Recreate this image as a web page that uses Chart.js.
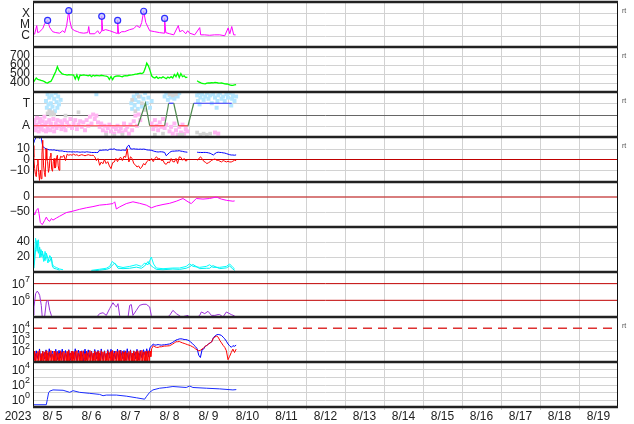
<!DOCTYPE html>
<html><head><meta charset="utf-8">
<script src="https://cdn.jsdelivr.net/npm/chart.js@4.4.1/dist/chart.umd.min.js"></script>
<style>
html,body{margin:0;padding:0;background:#fff;}
body{width:634px;height:424px;overflow:hidden;position:relative;}
canvas{position:absolute;left:0;}
</style></head><body>
<script>
// ---------------- axis labels ----------------
const dayLabels = ['8/ 5','8/ 6','8/ 7','8/ 8','8/ 9','8/10','8/11','8/12','8/13','8/14','8/15','8/16','8/17','8/18','8/19'];
const yearLabel = '2023';
const xrayTicks = [1e-6, 1e-5, 1e-4];           const xrayTickLabels = ['C','M','X'];
const speedTicks = [400, 500, 600, 700];         const speedTickLabels = ['400','500','600','700'];
const sectorTicks = [1, 2, 3];                   const sectorTickLabels = ['A','','T'];
const imfTicks = [-10, 0, 10];                   const imfTickLabels = ['\u221210','0','10'];
const dstTicks = [-50, 0];                       const dstTickLabels = ['\u221250','0'];
const aeTicks = [20, 40];                        const aeTickLabels = ['20','40'];
const protonTicks = [1e6, 1e7];                  const protonTickLabels = ['10\u2076','10\u2077'];
const elecTicks = [1e2, 1e3, 1e4];               const elecTickLabels = ['10\u00b2','10\u00b3','10\u2074'];
const fluxTicks = [1, 10, 100, 1000, 10000];     const fluxTickLabels = ['10\u2070','','10\u00b2','','10\u2074'];

// ---------------- series (hours from 8/5 00:00) ----------------
const xray = [[0,1.5e-6],[1.0,1.4e-6],[2.3,8e-6],[2.9,1.9e-6],[4.1,2.3e-6],[6.0,4.3e-6],[7.2,1.2e-5],[9.0,2.3e-5],[10.3,5.3e-6],[12.1,2.3e-6],[14.0,1.9e-6],[16.4,1.7e-6],[18.3,2.8e-6],[19.5,1.9e-6],[20.7,8e-6],[22.0,1.7e-4],[22.6,2.3e-5],[23.8,4.3e-6],[25.7,2.8e-6],[27.5,2.3e-6],[28.7,1.9e-6],[31.2,1.7e-6],[33.7,1.9e-6],[34.3,6.6e-6],[34.9,1.5e-6],[38.0,1.5e-6],[39.8,2.8e-6],[41.0,1.5e-6],[42.0,2.5e-6],[42.3,5.3e-5],[42.9,2.8e-6],[44.7,3.5e-6],[47.2,2.8e-6],[50.3,1.9e-6],[51.8,1.6e-6],[52.1,2.3e-5],[52.7,1.5e-6],[54.6,2.3e-6],[56.4,2.3e-6],[59.5,3.5e-6],[62.0,4.3e-6],[63.8,8e-6],[65.7,5.3e-6],[66.9,1.5e-5],[68.1,1.5e-4],[69.4,1.5e-5],[71.8,2.8e-6],[74.9,2.3e-6],[77.9,1.9e-6],[80.7,1.7e-6],[81.0,3.5e-5],[81.7,1.9e-6],[84.1,1.5e-6],[86.6,1.2e-6],[89.4,8e-6],[90.3,2.3e-6],[92.1,3e-6],[94.0,1.5e-6],[95.2,2.8e-6],[96.4,1.7e-6],[99.5,1.2e-6],[102.6,5.3e-6],[103.2,1.2e-6],[105.6,1.2e-6],[108.7,1.1e-6],[111.8,1.2e-6],[114.9,1.2e-6],[118.0,1.0e-6],[120.1,5e-6],[121.1,1.5e-6],[122.3,6.6e-6],[123.5,1.2e-6],[124.7,1.2e-6]];
const flarePeaks = [[9.0,2.3e-5],[22.0,1.7e-4],[42.3,5.3e-5],[52.1,2.3e-5],[68.1,1.5e-4],[81.0,3.5e-5]];

// solar wind speed, hourly from 0h
const speedHourly = [
 400,430,455,440,436,430,425,415,405,400,
 412,418,450,490,527,582,540,520,500,495,
 492,488,492,490,490,488,445,490,438,488,
 485,490,487,485,480,488,470,486,478,484,
 482,480,486,482,478,476,470,440,472,438,
 470,475,478,480,474,470,478,482,480,486,
 488,490,494,498,500,505,510,505,515,560,
 620,590,540,480,462,455,470,450,462,455,
 470,458,448,465,455,470,455,495,470,510,
 462,505,470,480,460,466,null,null,null,null,
 null,425,412,405,395,392,390,398,402,400,
 405,402,407,404,400,398,400,396,390,389,
 388,380,375,373,378,381];

// IMF sector: step line (1 = Away, 3 = Toward) and angle dots
const sectorLine = [[0,1],[64.6,1],[69.2,3],[71.8,1],[81,1],[83.5,3],[86.6,3],[89.7,1],[95.4,1],[98.9,3],[122.3,3]];
const sectorPink = [[0.5,1.2],[0.5,0.8],[1,1.5],[1.5,0.6],[2,1.1],[2.5,1.7],[3,0.9],[3.5,0.5],[4,1.3],[4.5,1.6],[5,0.7],[5.5,1.0],[6,1.4],[6.5,0.6],[7,1.8],[7.5,1.1],[8,0.5],[8.5,1.3],[9,0.8],[10,1.5],[10.5,0.6],[11,1.2],[12,0.9],[12.5,1.6],[13,0.5],[14,1.2],[14.5,0.8],[15,1.5],[16,1.0],[17,1.4],[17.5,0.7],[18,1.2],[19,0.9],[19.5,1.5],[20,0.6],[21,1.3],[22,1.0],[23,1.6],[24,0.8],[25,1.2],[26,1.5],[27,0.7],[28,1.1],[29,1.4],[30,0.9],[31,1.3],[32,0.6],[33,1.5],[34,1.0],[35,1.8],[36,1.2],[37,2.0],[38,1.6],[39,1.9],[40,1.3],[41,0.9],[42,1.2],[43,0.6],[44,1.0],[45,0.4],[46,0.8],[47,1.1],[48,0.5],[49,0.9],[50,0.3],[51,0.7],[52,1.0],[53,0.5],[54,0.8],[55,0.4],[56,1.2],[57,0.6],[58,0.9],[59,0.3],[60,1.1],[61,0.6],[62,1.4],[63,1.9],[64,1.0],[65,2.0],[66,1.5],[73,1.2],[74,0.7],[75,1.5],[76,1.0],[77,0.6],[78,1.3],[79,0.9],[80,1.6],[81,0.8],[82,1.1],[84,0.5],[85,0.9],[86,0.3],[87,1.2],[88,0.6],[89,0.2],[90,0.9],[91,0.4],[92,1.1],[93,0.3],[94,0.7],[95,0.5],[112,0.4],[114,0.3]];
const sectorBlue = [[8,3.2],[8.5,2.6],[9,3.8],[9.5,2.9],[10,3.5],[10.5,2.4],[11,3.0],[11.5,3.7],[12,2.7],[13,3.4],[13.5,2.3],[14,3.9],[14.5,3.1],[15,2.6],[15.5,3.6],[16,2.9],[17,3.3],[39,3.8],[60.5,3.0],[61,2.5],[62,3.6],[62.5,2.8],[63,3.3],[64,3.8],[64.5,2.5],[65,3.1],[66,3.6],[67,2.7],[68,3.4],[69,3.9],[70,3.0],[71,3.5],[72,2.6],[73,3.2],[81,3.6],[82,3.9],[83,3.3],[84,3.7],[85,3.5],[86,3.9],[87,3.4],[88,3.7],[89,3.6],[90,3.9],[101,3.7],[101.5,3.2],[102,3.9],[102.5,2.9],[103,3.5],[104,3.8],[105,3.3],[106,3.6],[107,3.9],[108,3.4],[109,3.7],[110,3.0],[111,3.8],[112,3.5],[113,2.6],[113.5,3.2],[114,3.7],[115,3.9],[116,3.4],[117,3.6],[118,3.2],[119,3.8],[120,3.5],[121,3.9],[122,2.8],[122.5,3.4],[123,3.7],[124,3.2],[125,3.6]];
const sectorGray = [[9,2.1],[10,2.3],[11,2.0],[12,2.2],[13,2.0],[20,1.9],[28,2.2],[45,0.2],[50,0.1],[55,0.2],[61,3.3],[63,2.3],[65,3.6],[67,3.0],[69,2.4],[75,0.2],[80,0.3],[84,3.8],[86,3.7],[88,3.8],[90,0.2],[92,0.2],[101,0.4],[103,0.2],[105,0.3],[107,0.2],[109,0.3]];

// IMF Bt (hourly from 0h) and Bz (half-hourly 0-16.5h, then hourly from 17h), nT
const btHourly = [
 13.5,18,21,21,20,21,12,11,10,9.5,
 9,9,8.8,9,8.5,8.5,8,8,8,7.5,
 7.5,7.2,7.2,7.2,7,7.2,7,7.2,7,6.8,
 7,7,6.8,7.2,7,6.8,6.6,6.5,6.6,6.5,
 6.6,8.8,8.5,8.8,8.8,9,8.5,9.5,9.7,9.5,
 10,9,8.8,8.8,8.5,8.8,8.8,8.5,12,13.5,
 10,9.7,10,9.7,9.7,9.5,9.7,9.5,9.7,9.5,
 9,8.8,8.8,8.5,8,7.5,7.2,7,7.2,7.2,
 7,6.6,3.5,5,6.5,7.5,7.8,7.8,8,8,
 8.2,7.8,7.6,7.2,7,6.8,null,null,null,null,
 null,6.8,6.6,6.6,6.5,6.6,6.6,6.5,6.2,5.8,
 5,4.2,5.5,6.5,6.8,6.6,6.5,6.2,6,5.5,
 5,4.5,4.2,4.2,4,4.3];
const bzEarlyHalfHourly = [
 13,2,-8.5,-14,-16,-5,0,-12,-19.5,-10,
 -18,5,18,-6,-12,-16,10,0,-2,-12,
 -8.5,3,6,-9,-11,-2,1,-8,-7,2,
 4,-6,-10,0];
const bzHourlyFrom17 = [
 3,2,4,
 -1,5,4,4.5,4,5,4,4.5,3.5,4,
 4.5,4,3.5,4,4.5,4,3.8,4,2.5,-1,
 0.9,-5.4,-2.3,-4,0,-3.8,-2,-6,-8.5,-3,
 -2.3,1,-2,0.9,2,-1,3,2,10,-2.3,
 2.5,1,-3.8,-5,-7,-6,-8.5,-7,-3.8,-5,
 -2,-0.7,-1,0.9,-2,1,2.5,0.5,0.9,-1,
 -0.7,-3.8,-4.5,-2.3,-3,0.9,-2,-2.3,1,-3.8,
 2.5,2,-0.7,1,-1.5,-0.7,null,null,null,null,
 null,-0.7,0.5,2.5,1,-1.6,-2.5,-3.8,-3,-2,
 -0.7,0,0.5,-0.7,-0.7,-1.6,-2.3,-1,-1.6,-2.3,
 -1.6,-2.3,-2.3,-1.6,-0.7,-1];

// Dst index (nT)
const dst = [[0,-45],[1.0,-60],[2.1,-44],[3.1,-38],[3.7,-55],[4.5,-85],[5.7,-92],[7.2,-78],[8.2,-67],[9.2,-77],[10.3,-81],[11.3,-72],[12.3,-77],[14.4,-70],[16.4,-64],[20.5,-52],[24.6,-47],[28.7,-41],[32.8,-36],[36.9,-32],[41.0,-27],[45.1,-25],[49.2,-22],[50.3,-16],[51.3,-40],[53.3,-33],[57.4,-22],[61.5,-16],[65.6,-21],[69.7,-27],[72.8,-36],[75.9,-30],[80.0,-25],[84.1,-21],[88.2,-14],[92.3,-5],[95.4,-16],[97.4,-22],[100.5,-5],[104.6,-7],[108.7,-5],[112.8,0],[115.9,-7],[119.0,-11],[123.0,-14],[124.1,-13]];

// cyan activity traces
const cyanA = [[0.6,9.7],[1.6,45],[2.5,27.5],[3.3,43],[4.1,18.7],[4.9,30],[5.7,25],[6.6,14],[7.4,27.5],[8.2,20.8],[9.2,12],[10.3,22],[11.3,18.7],[11.9,11],[12.7,7.5],[14.4,6],[16.4,4],[18.5,3],[27,null],[35.9,2.2],[41,3.7],[45.1,5],[47.2,7.5],[48.8,14],[50.3,11],[52.3,7.5],[55.4,6],[59.5,7.5],[63.6,9.7],[66.7,7.5],[68.7,12],[70.8,9.7],[72.8,20],[74.2,10.7],[75.9,5.3],[80,4.4],[86.1,5.3],[90.2,5.3],[94.3,7.5],[96.4,11],[98.4,7.5],[102.6,6.2],[106.7,7.5],[108.7,9.7],[110.7,6.2],[114.9,6.2],[119,7.5],[121,10.7],[123,6.2],[124.1,4]];
const cyanB = [[0.6,5],[1.6,30],[2.5,42],[3.3,25],[4.1,33],[4.9,20],[5.7,28],[6.6,20],[7.4,15],[8.2,25],[9.2,18],[10.3,14],[11.3,20],[11.9,8],[12.7,5],[14.4,4],[16.4,2.5],[27,null],[35.9,1],[41,2.5],[45.1,3.5],[47.2,5],[48.8,9],[50.3,12],[52.3,5],[55.4,4.5],[59.5,5],[63.6,6.5],[66.7,5],[68.7,8],[70.8,14],[72.8,8],[74.2,6],[75.9,3.5],[80,3],[86.1,4],[90.2,3.5],[94.3,5],[96.4,7],[98.4,10],[102.6,4.5],[106.7,5],[108.7,5],[110.7,8.5],[114.9,4.5],[119,5.5],[121,8],[123,4],[124.1,2]];

// proton-type flux (purple)
const purple = [[0,1.3e5],[0.6,4.0e5],[1.6,2.5e6],[2.5,3.5e6],[3.1,3.2e6],[4.1,2.0e6],[5.1,5.0e5],[5.7,1.0e5],[6.6,8e4],[7.2,1.15e5],[8.2,8e5],[9.2,1.0e6],[10.3,2.5e5],[11.3,1.25e5],[11.9,8e4],[20,6e4],[30,6e4],[38,7e4],[41,1.6e5],[43.1,1.8e5],[45.1,1.25e5],[47.2,3.2e5],[49.2,7.2e5],[50.3,5.0e5],[51.3,4.0e5],[52.3,6.3e5],[53.3,1.25e5],[55.4,6.3e4],[58.5,1.0e5],[59.5,5.0e5],[60.5,5.6e5],[61.5,1.25e5],[63.6,2.5e5],[65.6,5.0e5],[67.7,5.8e5],[69.7,5.8e5],[71.8,4.0e5],[72.8,1.25e5],[73.8,6.3e4],[80,6.3e4],[84.1,1.25e5],[86.1,2.5e5],[88.2,1.6e5],[91.3,1.0e5],[95.4,1.25e5],[98.4,6.3e4],[102.6,1.25e5],[103.6,2.0e5],[105.7,1.6e5],[107.7,2.2e5],[109.8,1.25e5],[111.9,1.25e5],[113.9,1.4e5],[114.9,1.4e5],[116.9,1.0e5],[119,2.0e5],[122,1.4e5],[124.1,1.15e5]];

// electron flux: noisy early part, then hourly from 74h
const elecBlueHourlyEarly = [
 130,15,100,20,145,12,90,18,120,14,150,25,95,13,135,16,110,22,140,12,
 105,17,125,14,95,20,150,13,115,18,100,12,140,16,120,25,90,14,130,19,
 110,12,145,17,100,15,125,22,135,13,95,18,140,12,115,20,105,14,150,16,
 120,13,100,19,135,15,110,24,125,40,150,30,200,260];
const elecBlueHourlyLate = [
 400,315,330,355,330,315,330,340,355,380,
 400,470,560,700,890,1000,1120,1150,1100,1000,
 1000,900,800,600,450,315,230,150,40,25,
 120,140,250,300,400,500,630,1500,2000,2600,
 2800,2600,2300,1600,1150,700,400,280,200,280,
 250,315];
const elecRedHalfHourlyEarly = [
 70,10,95,11,60,9,85,12,110,10,55,13,90,9,75,11,100,10,65,12,
 80,9,105,11,50,10,95,12,70,9,88,11,60,10,100,13,75,9,92,11,
 58,10,85,12,110,9,66,11,95,10,72,13,88,9,104,11,62,10,90,12,
 78,9,100,11,55,10,93,12,68,9,107,11,82,10,60,13,96,9,74,11,
 88,10,63,12,101,9,77,11,92,10,57,13,99,9,70,11,86,10,108,12,
 65,9,94,11,79,10,103,12,58,9,91,11,73,10,98,13,66,9,87,11,
 105,10,62,12,95,9,80,11,100,10,68,13,92,9,110,11,75,10,85,12,
 90,12,100,11,95,30,150];
const elecRedHourlyLate = [
 280,225,200,200,225,225,250,260,263,270,
 280,330,400,500,630,630,660,575,500,450,
 400,350,315,280,230,200,140,120,100,110,
 140,180,250,300,400,500,630,1320,1700,2000,
 1600,800,500,300,200,100,16,32,70,140,
 70,140];

// bottom panel flux (blue)
const fluence = [[0,0.2],[8.2,0.2],[8.8,1],[9.6,8],[10.3,13],[12.3,19],[18.5,17],[22.6,9],[24.6,15],[28.7,9],[34.9,6.6],[41.0,4.8],[43.1,3.2],[45.1,3.9],[51.3,3.9],[57.4,2.8],[63.6,1.7],[68.7,1.1],[69.7,2.3],[71.8,9],[73.8,19],[77.9,32],[82.0,40],[86.1,54],[94.3,40],[96.4,63],[98.4,40],[106.7,32],[114.9,26],[123.0,19],[125.1,21]];

// reference levels
const imfZero = 0, dstZero = 0, protonLevels = [1e6, 1e7], elecLevel = 1e4;

// ---------------- drawing ----------------
const FONT = "'Liberation Sans', Arial, 'DejaVu Sans', sans-serif";
const W = 634, PLOT_LEFT = 33, PLOT_RIGHT = 618, PANEL_H = 45, TOP0 = 2, AXIS_H = 17;
const GRID = '#d2d2d2';
const SUP = '\u2070\u00b9\u00b2\u00b3\u2074\u2075\u2076\u2077\u2078\u2079';

const pairs = a => a.map(p => ({x: p[0], y: p[1]}));
const series = (a, start, step) => a.map((v, i) => ({x: start + i * step, y: v}));
function line(data, color, extra) {
  return Object.assign({type: 'line', data, borderColor: color, backgroundColor: color, borderWidth: 1,
    pointRadius: 0, tension: 0, fill: false, clip: 0, spanGaps: false, order: 1}, extra || {});
}
function refLine(level, color, extra) {
  return line([{x: 0, y: level}, {x: 360, y: level}], color, Object.assign({order: 20}, extra || {}));
}
function dots(data, color, r) {
  return {type: 'line', data, showLine: false, pointStyle: 'rect', pointRadius: r, pointBorderWidth: 0,
    pointBackgroundColor: color, pointBorderColor: color, clip: 0, order: 10};
}

function drawTickLabel(ctx, t, x, y) {
  let i = t.length;
  while (i > 0 && SUP.indexOf(t[i - 1]) >= 0) i--;
  if (i === t.length) { ctx.font = '12px ' + FONT; ctx.fillText(t, x, y); return; }
  const exp = t.slice(i).split('').map(ch => String(SUP.indexOf(ch))).join('');
  ctx.font = '9px ' + FONT;
  const we = ctx.measureText(exp).width;
  ctx.fillText(exp, x, y - 4);
  ctx.font = '12px ' + FONT;
  ctx.fillText(t.slice(0, i), x - we, y + 1);
}

function makeAxesPlugin(spec) {
  const y = spec.y, bottom = !!spec.bottom;
  return {
    id: 'axesFrame',
    beforeDatasetsDraw(chart) {
      const {ctx, chartArea: a, scales} = chart;
      const xs = scales.x, ys = scales.y;
      ctx.save();
      ctx.lineWidth = 1;
      ctx.strokeStyle = GRID;
      ctx.beginPath();
      for (let d = 1; d < dayLabels.length; d++) {
        const px = Math.round(xs.getPixelForValue(d * 24)) + 0.5;
        ctx.moveTo(px, a.top); ctx.lineTo(px, a.bottom + (bottom ? 3 : 0));
      }
      ctx.stroke();
      y.ticks.forEach(v => {
        const c = y.gridColor ? y.gridColor(v) : GRID;
        if (!c) return;
        const py = Math.round(ys.getPixelForValue(v)) + 0.5;
        ctx.strokeStyle = c;
        ctx.beginPath(); ctx.moveTo(a.left, py); ctx.lineTo(a.right, py); ctx.stroke();
      });
      ctx.restore();
    },
    afterDraw(chart) {
      const {ctx, chartArea: a, scales} = chart;
      const xs = scales.x, ys = scales.y;
      ctx.save();
      ctx.strokeStyle = '#111';
      ctx.lineWidth = 1;
      ctx.beginPath();
      ctx.moveTo(a.left + 0.5, a.top); ctx.lineTo(a.left + 0.5, a.bottom);
      ctx.moveTo(a.right - 0.5, a.top); ctx.lineTo(a.right - 0.5, a.bottom);
      ctx.stroke();
      ctx.strokeStyle = '#222';
      ctx.lineWidth = 2.6;
      ctx.beginPath();
      ctx.moveTo(a.left, a.top); ctx.lineTo(a.right, a.top);
      ctx.moveTo(a.left, a.bottom); ctx.lineTo(a.right, a.bottom);
      ctx.stroke();
      ctx.fillStyle = '#222';
      ctx.textAlign = 'right';
      ctx.textBaseline = 'middle';
      y.ticks.forEach((v, i) => {
        const t = y.labels[i];
        if (t) drawTickLabel(ctx, t, a.left - 3, ys.getPixelForValue(v));
      });
      if (spec.rt) {
        ctx.fillStyle = '#555';
        ctx.font = '7px ' + FONT;
        ctx.textAlign = 'left';
        ctx.fillText('rt', a.right + 4, a.top + 9);
      }
      if (bottom) {
        ctx.fillStyle = '#222';
        ctx.font = '12px ' + FONT;
        ctx.textAlign = 'center';
        const ly = a.bottom + 9.5;
        dayLabels.forEach((t, d) => ctx.fillText(t, xs.getPixelForValue(d * 24 + 12), ly));
        ctx.fillText(yearLabel, 18, ly);
      }
      ctx.restore();
    }
  };
}

function panel(i, spec) {
  const bottom = !!spec.bottom, first = i === 0;
  const padTop = first ? TOP0 : 0;
  const top = first ? 0 : TOP0 + i * PANEL_H;
  const h = PANEL_H + padTop + (bottom ? AXIS_H : 0);
  const c = document.createElement('canvas');
  c.width = W; c.height = h;
  c.style.top = top + 'px'; c.style.width = W + 'px'; c.style.height = h + 'px';
  document.body.appendChild(c);
  const y = spec.y;
  new Chart(c, {
    type: 'line',
    data: {datasets: spec.datasets},
    plugins: [makeAxesPlugin(spec)],
    options: {
      responsive: false, maintainAspectRatio: false, animation: false, events: [], devicePixelRatio: 1,
      layout: {autoPadding: false, padding: {left: PLOT_LEFT, right: W - PLOT_RIGHT, top: padTop, bottom: bottom ? AXIS_H : 0}},
      plugins: {legend: {display: false}, tooltip: {enabled: false}},
      scales: {
        x: {type: 'linear', min: 0, max: 360, display: false},
        y: {type: y.type || 'linear', min: y.min, max: y.max, display: false}
      }
    }
  });
}

// 1: X-ray class
panel(0, {rt: true,
  y: {type: 'logarithmic', min: 1e-7, max: 1e-3, ticks: xrayTicks, labels: xrayTickLabels},
  datasets: [
    line(pairs(xray), '#ff00ff', {order: 2}),
    {type: 'line', data: pairs(flarePeaks), showLine: false, pointRadius: 3, pointBorderWidth: 1.2,
     pointBorderColor: '#2b2bff', pointBackgroundColor: 'rgba(190,190,255,0.7)', clip: 4, order: 0}
  ]});

// 2: solar wind speed
panel(1, {rt: true,
  y: {min: 300, max: 800, ticks: speedTicks, labels: speedTickLabels},
  datasets: [line(series(speedHourly, 0, 1), '#00ff00', {borderWidth: 1.3})]});

// 3: IMF sector
panel(2, {rt: true,
  y: {min: 0, max: 4, ticks: sectorTicks, labels: sectorTickLabels,
      gridColor: v => v === 2 ? '#666' : GRID},
  datasets: [
    dots(pairs(sectorGray), '#d4d4d4', 2.6),
    dots(pairs(sectorBlue), '#b4e6ff', 2.8),
    dots(pairs(sectorPink), '#ffb6f2', 2.8),
    line(pairs(sectorLine), '#ff3333', {order: 1, borderWidth: 1.2,
      segment: {borderColor: ctx => {
        const a = ctx.p0.parsed.y, b = ctx.p1.parsed.y;
        if (a !== b) return '#4f8a4f';
        return a < 2 ? '#ff3b3b' : '#3a3aff';
      }}})
  ]});

// 4: IMF Bt / Bz
panel(3, {rt: true,
  y: {min: -21, max: 21, ticks: imfTicks, labels: imfTickLabels, gridColor: v => v === 0 ? null : GRID},
  datasets: [
    refLine(imfZero, '#c00000', {borderWidth: 1.2}),
    line(series(btHourly, 0, 1), '#0000ff', {order: 2}),
    line(series(bzEarlyHalfHourly, 0, 0.5).concat(series(bzHourlyFrom17, 17, 1)), '#ff0000', {order: 1})
  ]});

// 5: Dst
panel(4, {
  y: {min: -100, max: 50, ticks: dstTicks, labels: dstTickLabels, gridColor: v => v === 0 ? null : GRID},
  datasets: [
    refLine(dstZero, 'rgba(200,70,70,0.7)', {borderWidth: 2}),
    line(pairs(dst), '#ff00ff')
  ]});

// 6: cyan
panel(5, {
  y: {min: 0, max: 60, ticks: aeTicks, labels: aeTickLabels},
  datasets: [line(pairs(cyanB), '#00f0f0'), line(pairs(cyanA), '#00ffff')]});

// 7: purple
panel(6, {
  y: {type: 'logarithmic', min: 1e5, max: 5e7, ticks: protonTicks, labels: protonTickLabels,
      gridColor: () => null},
  datasets: [
    refLine(protonLevels[0], '#c00000'),
    refLine(protonLevels[1], '#c00000'),
    line(pairs(purple), '#9a30d8')
  ]});

// 8: electrons
panel(7, {rt: true,
  y: {type: 'logarithmic', min: 10, max: 1e5, ticks: elecTicks, labels: elecTickLabels,
      gridColor: v => v === elecLevel ? null : GRID},
  datasets: [
    refLine(elecLevel, '#dd3030', {borderWidth: 1.3, borderDash: [9, 6]}),
    line(series(elecBlueHourlyEarly, 0, 1).concat(series(elecBlueHourlyLate, 74, 1)), '#0000ff', {order: 2}),
    line(series(elecRedHalfHourlyEarly, 0, 0.5).concat(series(elecRedHourlyLate, 74, 1)), '#ff0000', {order: 1})
  ]});

// 9: bottom flux
panel(8, {bottom: true,
  y: {type: 'logarithmic', min: 0.1, max: 1e5, ticks: fluxTicks, labels: fluxTickLabels},
  datasets: [line(pairs(fluence), '#1a2cff')]});
</script>
</body></html>
